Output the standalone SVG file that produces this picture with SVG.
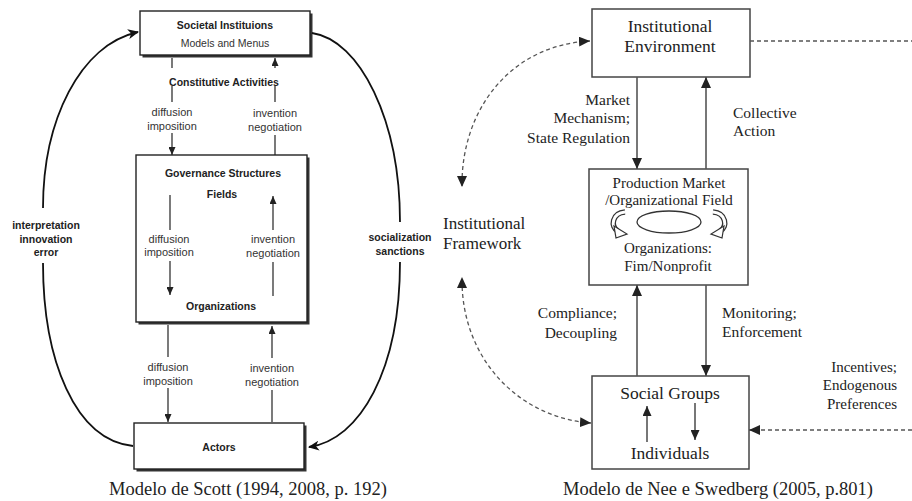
<svg xmlns="http://www.w3.org/2000/svg" width="912" height="501" viewBox="0 0 912 501">
<defs>
<style>
.sb{font-family:"Liberation Sans",Arial,sans-serif;font-weight:bold;font-size:10.5px;fill:#222;text-anchor:middle}
.sr{font-family:"Liberation Sans",Arial,sans-serif;font-size:11px;fill:#333;text-anchor:middle}
.lb{font-family:"Liberation Sans",Arial,sans-serif;font-weight:bold;font-size:10.5px;fill:#222;text-anchor:middle}
.t{font-family:"Liberation Serif","Times New Roman",serif;fill:#222}
.cap{font-family:"Liberation Serif","Times New Roman",serif;font-size:18.5px;fill:#222;text-anchor:middle}
.box{fill:#fff;stroke:#222;stroke-width:1.4}
.shadow{fill:#333}
.rbox{fill:#fff;stroke:#444;stroke-width:1.5}
.ln{fill:none;stroke:#222;stroke-width:1.2}
.cv{fill:none;stroke:#111;stroke-width:1.8}
.rl{fill:none;stroke:#555;stroke-width:1.6}
.dash{fill:none;stroke:#555;stroke-width:1.3;stroke-dasharray:4 3}
.hol{fill:none;stroke:#333;stroke-width:5.5}
.holw{fill:none;stroke:#fff;stroke-width:3}
</style>
<marker id="ah" markerUnits="userSpaceOnUse" markerWidth="8" markerHeight="7" refX="8" refY="3.5" orient="auto"><path d="M0,0 L8,3.5 L0,7 z" fill="#222"/></marker>
<marker id="ahc" markerUnits="userSpaceOnUse" markerWidth="11" markerHeight="10" refX="10" refY="5" orient="auto"><path d="M0,0 L11,5 L0,10 L3,5 z" fill="#111"/></marker>
<marker id="ar" markerUnits="userSpaceOnUse" markerWidth="11" markerHeight="10" refX="11" refY="5" orient="auto"><path d="M0,0 L11,5 L0,10 z" fill="#222"/></marker>
<marker id="ars" markerUnits="userSpaceOnUse" markerWidth="10" markerHeight="9" refX="10" refY="4.5" orient="auto"><path d="M0,0 L10,4.5 L0,9 z" fill="#222"/></marker>
</defs>

<!-- Left diagram: Scott -->
<g id="societal">
<rect class="shadow" x="142.5" y="13.5" width="170" height="44"/>
<rect class="box" x="140" y="11" width="170" height="44"/>
<text class="sb" x="225" y="29">Societal Instituions</text>
<text class="sr" x="225" y="47" style="font-size:10.5px">Models and Menus</text>
</g>
<g id="governance">
<rect class="shadow" x="138.5" y="157.5" width="171" height="167"/>
<rect class="box" x="136" y="155" width="171" height="167"/>
<text class="sb" x="223" y="177">Governance Structures</text>
<text class="sb" x="222" y="198">Fields</text>
<text class="sr" x="169" y="243">diffusion</text>
<text class="sr" x="169" y="256">imposition</text>
<text class="sr" x="273" y="243">invention</text>
<text class="sr" x="273" y="257">negotiation</text>
<text class="sb" x="221" y="310">Organizations</text>
</g>
<g id="actors">
<rect class="shadow" x="136.5" y="425.5" width="170" height="46"/>
<rect class="box" x="134" y="423" width="170" height="46"/>
<text class="sb" x="219" y="451">Actors</text>
</g>
<g id="scott-labels">
<text class="sb" x="224" y="86">Constitutive Activities</text>
<text class="sr" x="172" y="116">diffusion</text>
<text class="sr" x="172" y="130">imposition</text>
<text class="sr" x="275" y="117">invention</text>
<text class="sr" x="275" y="131">negotiation</text>
<text class="sr" x="168" y="371">diffusion</text>
<text class="sr" x="168" y="385">imposition</text>
<text class="sr" x="272" y="372">invention</text>
<text class="sr" x="272" y="386">negotiation</text>
<text class="lb" x="46" y="229">interpretation</text>
<text class="lb" x="46" y="243">innovation</text>
<text class="lb" x="46" y="256">error</text>
<text class="lb" x="400" y="241">socialization</text>
<text class="lb" x="400" y="255">sanctions</text>
<text class="cap" x="248" y="495">Modelo de Scott (1994, 2008, p. 192)</text>
</g>
<g id="scott-connectors">
<path class="ln" d="M172,58 V68 M172,86 V102"/>
<path class="ln" d="M172,133 V155" marker-end="url(#ah)"/>
<path class="ln" d="M275,155 V135 M275,102 V86"/>
<path class="ln" d="M275,68 V58" marker-end="url(#ah)"/>
<path class="ln" d="M170,195 V230"/>
<path class="ln" d="M170,261 V295" marker-end="url(#ah)"/>
<path class="ln" d="M273,296 V262"/>
<path class="ln" d="M273,230 V196" marker-end="url(#ah)"/>
<path class="ln" d="M168,325 V357"/>
<path class="ln" d="M168,388 V422" marker-end="url(#ah)"/>
<path class="ln" d="M272,422 V390"/>
<path class="ln" d="M272,358 V326" marker-end="url(#ah)"/>
<path class="cv" d="M133,446 C75,440 43,360 43,263"/>
<path class="cv" d="M43,208 C43,120 80,45 138,32" marker-end="url(#ahc)"/>
<path class="cv" d="M312,33 C360,40 400,120 400,222"/>
<path class="cv" d="M400,262 C400,370 360,440 309,447" marker-end="url(#ahc)"/>
</g>

<!-- Right diagram: Nee & Swedberg -->
<g id="inst-env">
<rect class="rbox" x="592" y="9" width="158" height="68"/>
<text class="t" x="670" y="32" text-anchor="middle" font-size="17.5">Institutional</text>
<text class="t" x="670" y="52" text-anchor="middle" font-size="17.5">Environment</text>
</g>
<g id="production">
<rect class="rbox" x="589" y="169" width="159" height="116"/>
<text class="t" x="669" y="188" text-anchor="middle" font-size="15">Production Market</text>
<text class="t" x="669" y="205" text-anchor="middle" font-size="15">/Organizational Field</text>
<ellipse cx="669" cy="222" rx="32" ry="11" fill="none" stroke="#333" stroke-width="1.3"/>
<path class="hol" d="M625,212 C612,213 610,227 618,231"/>
<path class="holw" d="M625,212 C612,213 610,227 618,231"/>
<path d="M614,226 L627,234 L616,238 z" fill="#fff" stroke="#333" stroke-width="1.2"/>
<path class="hol" d="M713,212 C726,213 728,227 720,231"/>
<path class="holw" d="M713,212 C726,213 728,227 720,231"/>
<path d="M724,226 L711,234 L722,238 z" fill="#fff" stroke="#333" stroke-width="1.2"/>
<text class="t" x="668" y="253" text-anchor="middle" font-size="15">Organizations:</text>
<text class="t" x="668" y="271" text-anchor="middle" font-size="15">Fim/Nonprofit</text>
</g>
<g id="social">
<rect class="rbox" x="592" y="376" width="157" height="93"/>
<text class="t" x="670" y="399" text-anchor="middle" font-size="17.5">Social Groups</text>
<text class="t" x="670" y="459" text-anchor="middle" font-size="17.5">Individuals</text>
</g>
<g id="nee-labels">
<text class="t" x="630" y="105" text-anchor="end" font-size="15.5">Market</text>
<text class="t" x="630" y="123" text-anchor="end" font-size="15.5">Mechanism;</text>
<text class="t" x="630" y="143" text-anchor="end" font-size="15.5">State Regulation</text>
<text class="t" x="733" y="118" font-size="15.5">Collective</text>
<text class="t" x="733" y="136" font-size="15.5">Action</text>
<text class="t" x="443" y="229" font-size="17">Institutional</text>
<text class="t" x="443" y="249" font-size="17">Framework</text>
<text class="t" x="617" y="318" text-anchor="end" font-size="15.5">Compliance;</text>
<text class="t" x="617" y="338" text-anchor="end" font-size="15.5">Decoupling</text>
<text class="t" x="722" y="318" font-size="15.5">Monitoring;</text>
<text class="t" x="722" y="337" font-size="15.5">Enforcement</text>
<text class="t" x="897" y="372" text-anchor="end" font-size="15">Incentives;</text>
<text class="t" x="897" y="390" text-anchor="end" font-size="15">Endogenous</text>
<text class="t" x="897" y="409" text-anchor="end" font-size="15">Preferences</text>
<text class="cap" x="718" y="495">Modelo de Nee e Swedberg (2005, p.801)</text>
</g>
<g id="nee-connectors">
<path class="rl" d="M637,77 V169" marker-end="url(#ar)"/>
<path class="rl" d="M706,169 V77" marker-end="url(#ar)"/>
<path class="rl" d="M637,376 V285" marker-end="url(#ar)"/>
<path class="rl" d="M706,285 V376" marker-end="url(#ar)"/>
<path class="rl" d="M647,442 V406" marker-end="url(#ars)"/>
<path class="rl" d="M695,403 V440" marker-end="url(#ars)"/>
<path class="dash" d="M750,41 H912"/>
<path class="dash" d="M912,430 H749" marker-end="url(#ar)"/>
<path class="dash" d="M462,184 C462,110 510,45 590,41" marker-end="url(#ar)"/>
<path class="dash" d="M462,182 V187" marker-end="url(#ar)"/>
<path class="dash" d="M462,280 C462,360 520,418 591,423" marker-end="url(#ar)"/>
<path class="dash" d="M462,283 V277" marker-end="url(#ar)"/>
</g>
</svg>
